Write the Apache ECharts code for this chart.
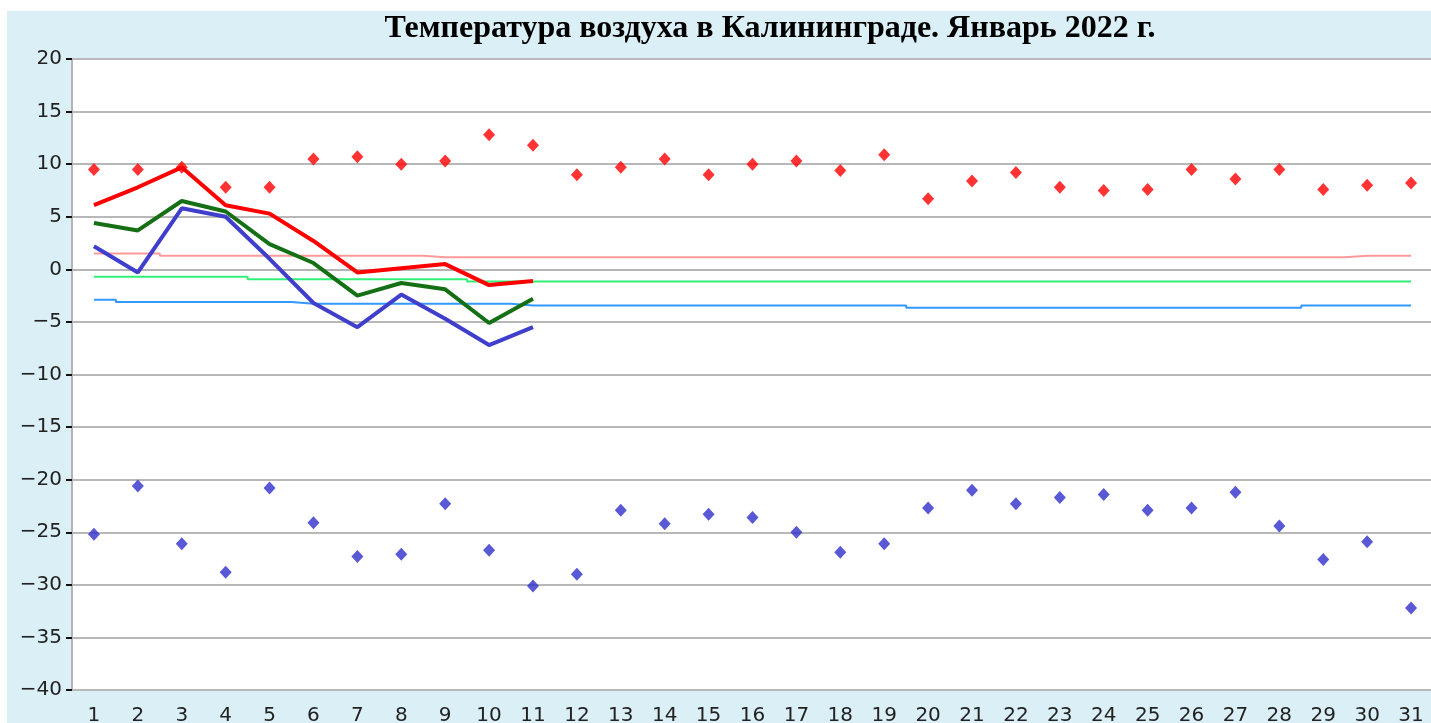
<!DOCTYPE html>
<html>
<head>
<meta charset="utf-8">
<script src="https://cdn.jsdelivr.net/npm/echarts@6/dist/echarts.min.js"></script>
<style>
html,body{margin:0;padding:0;background:#fff;width:1431px;height:723px;overflow:hidden;}
#bg{position:absolute;left:7px;top:11px;width:1424px;height:712px;background:#daeff6;}
#chart{position:absolute;left:0;top:0;width:1431px;height:723px;}
</style>
</head>
<body>
<div id="bg"></div>
<div id="chart"></div>
<script>
const titleText = 'Температура воздуха в Калининграде. Январь 2022 г.';
const days = ['1','2','3','4','5','6','7','8','9','10','11','12','13','14','15','16','17','18','19','20','21','22','23','24','25','26','27','28','29','30','31'];
const maxRecord = [9.5, 9.5, 9.7, 7.8, 7.8, 10.5, 10.7, 10.0, 10.3, 12.8, 11.8, 9.0, 9.7, 10.5, 9.0, 10.0, 10.3, 9.4, 10.9, 6.7, 8.4, 9.2, 7.8, 7.5, 7.6, 9.5, 8.6, 9.5, 7.6, 8.0, 8.2];
const minRecord = [-25.2, -20.6, -26.1, -28.8, -20.8, -24.1, -27.3, -27.1, -22.3, -26.7, -30.1, -29.0, -22.9, -24.2, -23.3, -23.6, -25.0, -26.9, -26.1, -22.7, -21.0, -22.3, -21.7, -21.4, -22.9, -22.7, -21.2, -24.4, -27.6, -25.9, -32.2];
const dayMax = [6.1, 7.8, 9.7, 6.1, 5.3, 2.7, -0.3, 0.1, 0.5, -1.5, -1.1];
const dayMean = [4.4, 3.7, 6.5, 5.5, 2.4, 0.6, -2.5, -1.3, -1.9, -5.1, -2.8];
const dayMin = [2.2, -0.3, 5.8, 5.0, 1.0, -3.2, -5.5, -2.4, -4.7, -7.2, -5.5];
const normMax = [1.5, 1.5, 1.3, 1.3, 1.3, 1.3, 1.3, 1.3, 1.15, 1.15, 1.15, 1.15, 1.15, 1.15, 1.15, 1.15, 1.15, 1.15, 1.15, 1.15, 1.15, 1.15, 1.15, 1.15, 1.15, 1.15, 1.15, 1.15, 1.15, 1.3, 1.3];
const normMean = [-0.7, -0.7, -0.7, -0.7, -0.95, -0.95, -0.95, -0.95, -0.95, -1.15, -1.15, -1.15, -1.15, -1.15, -1.15, -1.15, -1.15, -1.15, -1.15, -1.15, -1.15, -1.15, -1.15, -1.15, -1.15, -1.15, -1.15, -1.15, -1.15, -1.15, -1.15];
const normMin = [-2.9, -3.1, -3.1, -3.1, -3.1, -3.27, -3.27, -3.27, -3.27, -3.27, -3.43, -3.43, -3.43, -3.43, -3.43, -3.43, -3.43, -3.43, -3.43, -3.65, -3.65, -3.65, -3.65, -3.65, -3.65, -3.65, -3.65, -3.65, -3.43, -3.43, -3.43];

const chart = echarts.init(document.getElementById('chart'), null, {renderer: 'canvas'});
const labelFont = {fontFamily: 'DejaVu Sans', fontSize: 20, color: '#222'};
const thin = (name, data, color) => ({
  name, type: 'line', data, step: 'middle', symbol: 'none', silent: true,
  lineStyle: {color, width: 2}, z: 2
});
const thick = (name, data, color) => ({
  name, type: 'line', data, symbol: 'none', silent: true,
  lineStyle: {color, width: 4}, z: 4
});
chart.setOption({
  animation: false,
  backgroundColor: 'transparent',
  graphic: [{
    type: 'text', x: 770, y: 29,
    style: {text: titleText, fontFamily: 'Liberation Serif', fontWeight: 'bold', fontSize: 32,
      fill: '#000', textAlign: 'center', textVerticalAlign: 'middle'}
  }],
  grid: {left: 72, top: 59, right: -2, bottom: 33, show: true, backgroundColor: '#fff', borderWidth: 0,
    containLabel: false, outerBoundsMode: 'none'},
  xAxis: {
    type: 'category', data: days, boundaryGap: true,
    axisLine: {lineStyle: {color: '#b4b4b4', width: 2}},
    axisTick: {alignWithLabel: true, length: 10, lineStyle: {color: '#111', width: 2}},
    axisLabel: Object.assign({margin: 16, interval: 0}, labelFont),
    splitLine: {show: false}
  },
  yAxis: {
    type: 'value', min: -40, max: 20, interval: 5,
    axisLine: {show: true, lineStyle: {color: '#b4b4b4', width: 2}},
    axisTick: {show: true, length: 6, lineStyle: {color: '#111', width: 2}},
    axisLabel: Object.assign({margin: 10, formatter: v => String(v).replace('-', '\u2212')}, labelFont),
    splitLine: {lineStyle: {color: '#b8b8b8', width: 2}}
  },
  series: [
    thin('normMax', normMax, '#ff9a9a'),
    thin('normMean', normMean, '#33ee77'),
    thin('normMin', normMin, '#3399ff'),
    thick('dayMin', dayMin, '#3f3fcc'),
    thick('dayMean', dayMean, '#157015'),
    thick('dayMax', dayMax, '#ff0000'),
    {name: 'maxRecord', type: 'scatter', data: maxRecord, symbol: 'diamond', symbolSize: [12, 13],
      itemStyle: {color: '#ff0000'}, z: 5, silent: true},
    {name: 'minRecord', type: 'scatter', data: minRecord, symbol: 'diamond', symbolSize: [12, 13],
      itemStyle: {color: '#3030cc'}, z: 5, silent: true}
  ]
});
</script>
</body>
</html>
